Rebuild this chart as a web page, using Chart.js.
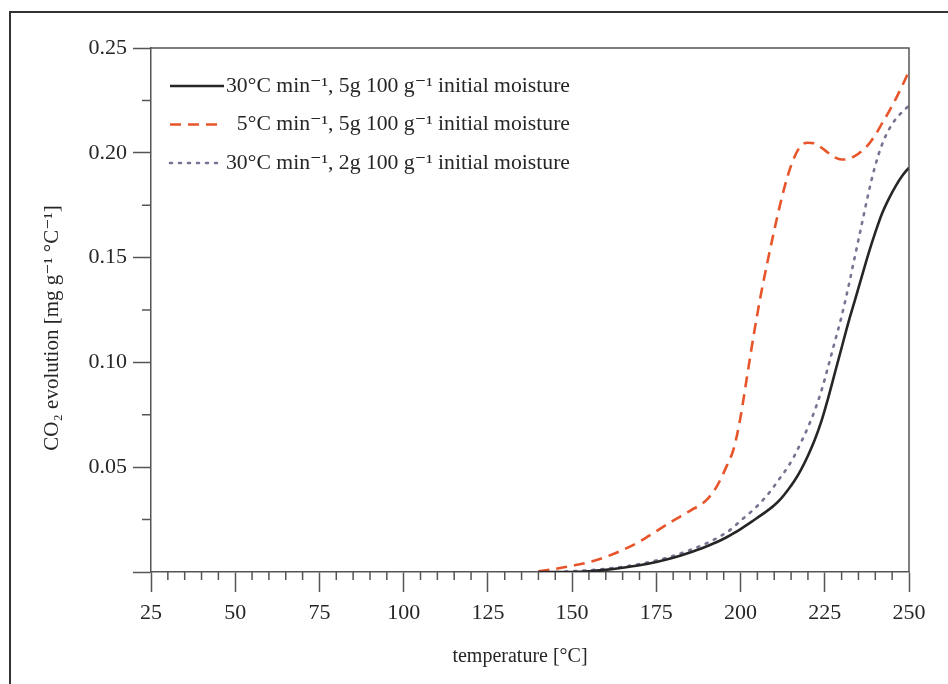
<!DOCTYPE html>
<html>
<head>
<meta charset="utf-8">
<script src="https://cdn.jsdelivr.net/npm/chart.js@4.4.0/dist/chart.umd.min.js"></script>
<style>
body{margin:0;background:#fff}
#contenedor{width:948px;height:684px;position:relative}
</style>
</head>
<body>
<div id="contenedor"><canvas id="grafico"></canvas></div>
<script>
// temperatura [°C] y evolucion de CO2 [mg g-1 °C-1]
var temperatura = [140,145,150,155,160,165,170,175,180,185,190,193,196,198,200,202,204,206,208,210,
                   212,214,216,218,220,222,224,226,228,230,232,234,236,238,240,242,244,246,248,250];
var co2_30C_5g = [0,0,0,0.0003,0.001,0.002,0.0032,0.0048,0.0068,0.0093,0.0123,0.0143,0.0167,0.0185,0.0205,0.0226,0.0248,0.027,0.0293,0.0318,
                  0.035,0.039,0.0435,0.049,0.0555,0.063,0.072,0.083,0.095,0.107,0.119,0.13,0.141,0.152,0.162,0.171,0.178,0.184,0.189,0.193];
var co2_5C_5g = [0.0003,0.0015,0.003,0.0047,0.0072,0.0105,0.0145,0.0195,0.0245,0.0292,0.0345,0.041,0.051,0.059,0.074,0.094,0.114,0.132,0.148,0.163,
                 0.177,0.189,0.198,0.2035,0.2048,0.2045,0.2025,0.2,0.1978,0.1968,0.197,0.1985,0.2008,0.204,0.2085,0.214,0.2195,0.2255,0.232,0.239];
var co2_30C_2g = [0,0,0.0004,0.0008,0.0015,0.0025,0.0038,0.0055,0.0077,0.0105,0.0138,0.0162,0.019,0.0215,0.0245,0.0272,0.03,0.0332,0.0368,0.041,
                  0.0455,0.05,0.0555,0.062,0.069,0.077,0.0865,0.098,0.11,0.122,0.136,0.151,0.166,0.181,0.194,0.204,0.211,0.216,0.2195,0.2225];
var etiquetas = ['30°C min⁻¹, 5g 100 g⁻¹ initial moisture',
                 '5°C min⁻¹, 5g 100 g⁻¹ initial moisture',
                 '30°C min⁻¹, 2g 100 g⁻¹ initial moisture'];
var tituloX = 'temperature [°C]';
var tituloY = 'CO₂ evolution [mg g⁻¹ °C⁻¹]';

var fuente = '"Liberation Serif", "DejaVu Serif", serif';
var gris = '#555';
var texto = '#262626';

function puntos(valores){
    return temperatura.map(function(t, i){ return {x: t, y: valores[i]} })
}

// marco de la figura, ticks menores, ejes superior/derecho, titulos y leyenda
var extras = {
    id: 'extras',
    afterDraw: function(chart){
        var ctx = chart.ctx, a = chart.chartArea;
        var sx = chart.scales.x, sy = chart.scales.y;
        ctx.save();
        ctx.strokeStyle = '#333';
        ctx.lineWidth = 2;
        ctx.beginPath();
        ctx.moveTo(10, 684); ctx.lineTo(10, 12); ctx.lineTo(948, 12);
        ctx.stroke();

        ctx.strokeStyle = gris;
        ctx.lineWidth = 1.5;
        ctx.beginPath();
        ctx.moveTo(a.left, a.top); ctx.lineTo(a.right, a.top); ctx.lineTo(a.right, a.bottom);
        for (var v = 30; v < 250; v += 5){
            if (v % 25 == 0) continue;
            var px = sx.getPixelForValue(v);
            ctx.moveTo(px, a.bottom); ctx.lineTo(px, a.bottom + 8);
        }
        for (var k = 0; k < 5; k++){
            var py = sy.getPixelForValue(0.025 + k * 0.05);
            ctx.moveTo(a.left - 9, py); ctx.lineTo(a.left, py);
        }
        ctx.stroke();

        // titulos de los ejes
        ctx.fillStyle = texto;
        ctx.textAlign = 'center';
        ctx.textBaseline = 'middle';
        ctx.font = '20px ' + fuente;
        ctx.fillText(tituloX, (a.left + a.right) / 2 - 10, 657);
        ctx.save();
        ctx.translate(52, (a.top + a.bottom) / 2 + 18);
        ctx.rotate(-Math.PI / 2);
        ctx.font = '21px ' + fuente;
        ctx.fillText(tituloY, 0, 0);
        ctx.restore();

        // leyenda
        ctx.font = '21.7px ' + fuente;
        ctx.textAlign = 'right';
        chart.data.datasets.forEach(function(ds, i){
            var y = a.top + 38 + i * 38.5;
            ctx.strokeStyle = ds.borderColor;
            ctx.lineWidth = ds.borderWidth;
            ctx.lineCap = ds.borderCapStyle || 'butt';
            ctx.setLineDash(ds.borderDash || []);
            ctx.beginPath();
            ctx.moveTo(a.left + 19, y); ctx.lineTo(a.left + 73, y);
            ctx.stroke();
            ctx.setLineDash([]);
            ctx.fillText(ds.label, a.left + 419, y);
        }, this);
        ctx.restore();
    }
};

var datos = {
    datasets: [{
        label: etiquetas[0],
        data: puntos(co2_30C_5g),
        borderColor: '#262626',
        borderWidth: 2.6
    }, {
        label: etiquetas[1],
        data: puntos(co2_5C_5g),
        borderColor: '#e8552b',
        borderWidth: 2.6,
        borderDash: [11, 7]
    }, {
        label: etiquetas[2],
        data: puntos(co2_30C_2g),
        borderColor: '#7b7192',
        borderWidth: 2.6,
        borderDash: [2, 7],
        borderCapStyle: 'round'
    }]
};
datos.datasets.forEach(function(ds){
    ds.pointRadius = 0;
    ds.fill = false;
    ds.cubicInterpolationMode = 'monotone';
});

Chart.defaults.font.family = fuente;
Chart.defaults.color = texto;

var grafico = new Chart(document.getElementById('grafico'), {
    type: 'line',
    data: datos,
    plugins: [extras],
    options: {
        responsive: true,
        maintainAspectRatio: false,
        animation: false,
        layout: { padding: { top: 48, right: 39, left: 0, bottom: 0 } },
        plugins: { legend: { display: false }, tooltip: { enabled: false } },
        scales: {
            x: {
                type: 'linear',
                min: 25, max: 250,
                ticks: { stepSize: 25, font: { size: 22 }, padding: 8, maxRotation: 0 },
                grid: { drawOnChartArea: false, tickLength: 20, tickColor: gris, tickWidth: 1.5 },
                border: { color: gris, width: 1.5 },
                afterFit: function(s){ s.height = 112 }
            },
            y: {
                min: 0, max: 0.25,
                ticks: {
                    stepSize: 0.05, font: { size: 22 }, padding: 6,
                    callback: function(v){ return v == 0 ? '' : v.toFixed(2) }
                },
                grid: { drawOnChartArea: false, tickLength: 18, tickColor: gris, tickWidth: 1.5 },
                border: { color: gris, width: 1.5 },
                afterFit: function(s){ s.width = 151 }
            }
        }
    }
});
</script>
</body>
</html>
